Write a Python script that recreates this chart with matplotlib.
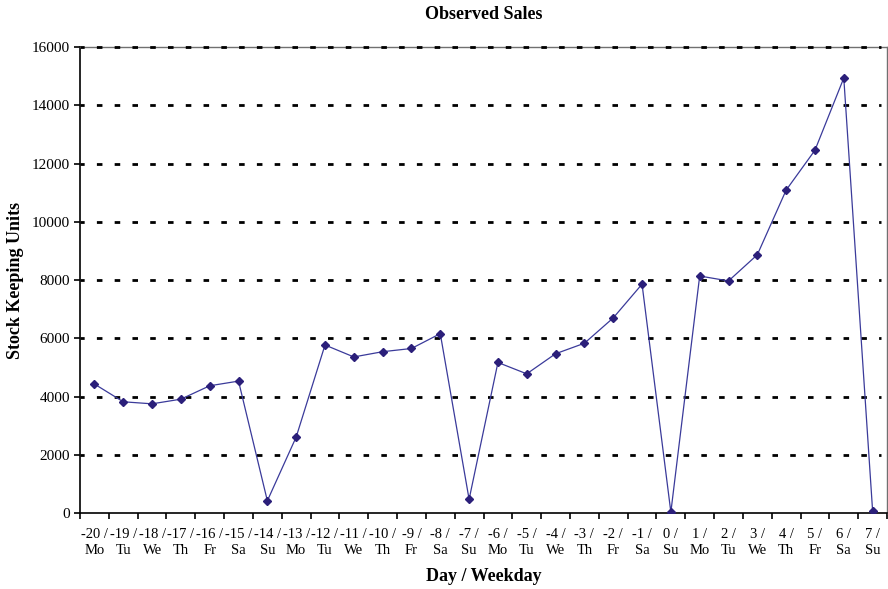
import numpy as np
import matplotlib.pyplot as plt
from matplotlib.ticker import FixedLocator, NullFormatter

# daily sales, days relative to day 0
days = list(range(-20, 8))
weekdays = ['Mo', 'Tu', 'We', 'Th', 'Fr', 'Sa', 'Su'] * 4
sales = [4430, 3820, 3750, 3910, 4370, 4530, 420,
         2610, 5770, 5360, 5540, 5650, 6160, 470,
         5170, 4780, 5470, 5830, 6700, 7860, 30,
         8140, 7970, 8870, 11090, 12460, 14940, 70]
y_ticks = np.arange(0, 16001, 2000)

plt.rcParams['font.family'] = ['Liberation Serif', 'DejaVu Serif']

fig = plt.figure(figsize=(8.88, 5.89), dpi=100)
ax = fig.add_axes([0.0901, 0.129, 0.9088, 0.791])

x = np.arange(len(days))

for side in ['top', 'right']:
    ax.spines[side].set_color('#707070')
    ax.spines[side].set_linewidth(1)
for side in ['left', 'bottom']:
    ax.spines[side].set_color('black')
    ax.spines[side].set_linewidth(1.2)

# dotted horizontal grid, none on the zero line
for v in y_ticks[1:]:
    ax.axhline(v, xmax=0.992, color='black', lw=2.0,
               linestyle=(0.5, (2.0, 4.4)), zorder=2.6, clip_on=False)

ax.plot(x, sales, color='#3a3a9a', lw=0.9, marker='D', ms=4,
        mfc='#2b1f7a', mec='#2b1f7a', zorder=3)

ax.set_xlim(-0.5, len(days) - 0.5)
ax.set_ylim(0, 16000)
ax.set_yticks(y_ticks)

# boundaries carry the tick marks, centres carry the labels
ax.xaxis.set_major_locator(FixedLocator(np.arange(len(days) + 1) - 0.5))
ax.xaxis.set_major_formatter(NullFormatter())
ax.xaxis.set_minor_locator(FixedLocator(x))
ax.set_xticklabels([f'{d} /\n{w}' for d, w in zip(days, weekdays)],
                   minor=True, linespacing=1.25)
ax.tick_params(axis='x', which='major', length=4, width=1.2, direction='out')
ax.tick_params(axis='x', which='minor', length=0, pad=11, labelsize=10.5)
ax.tick_params(axis='y', length=4, width=1.2, labelsize=11, pad=3)

ax.set_title('Observed Sales', fontsize=13, fontweight='bold', pad=20)
ax.set_xlabel('Day / Weekday', fontsize=13, fontweight='bold', labelpad=8)
ax.set_ylabel('Stock Keeping Units', fontsize=13, fontweight='bold', labelpad=6)

fig.savefig('out.png', dpi=100)
